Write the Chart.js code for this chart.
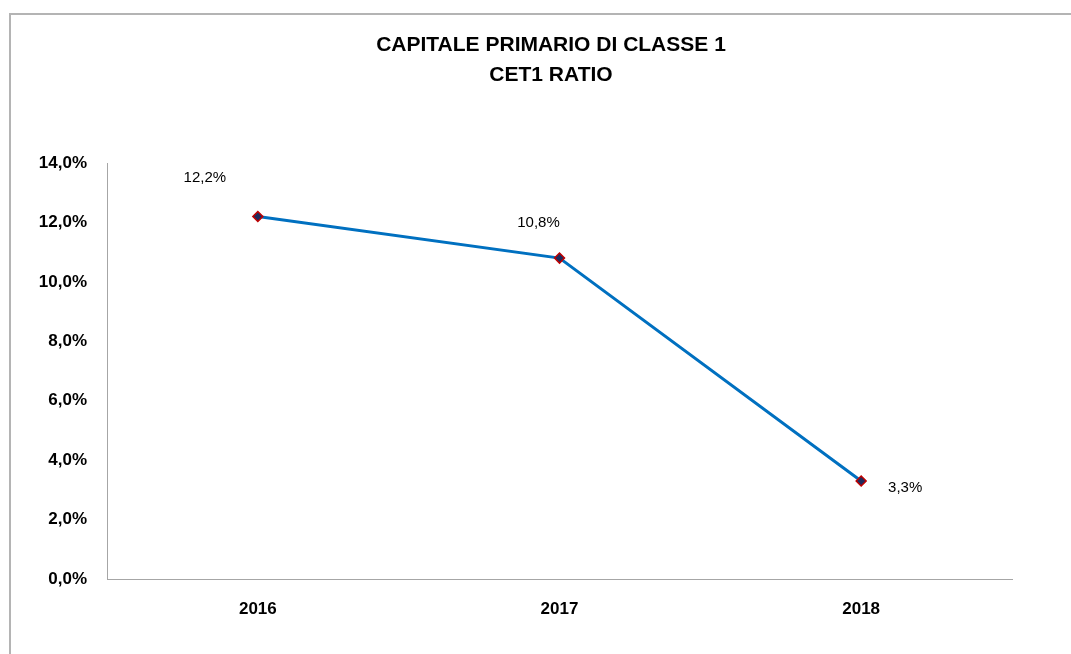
<!DOCTYPE html>
<html lang="it">
<head>
    <meta charset="UTF-8">
    <title>CET1 Ratio</title>
    <script src="https://cdn.jsdelivr.net/npm/chart.js"></script>
    <style>
        body { margin: 0; background: #fff; }
        .wrap { position: relative; width: 1071px; height: 654px; overflow: hidden; }
        .frame {
            position: absolute; left: 9px; top: 13px; width: 1200px; height: 800px;
            border-top: 2px solid #b4b4b4; border-left: 2px solid #b4b4b4;
        }
        #cet1Chart { position: absolute; left: 0; top: 0; }
    </style>
</head>
<body>
    <div class="wrap">
        <div class="frame"></div>
        <canvas id="cet1Chart" width="1071" height="654"></canvas>
    </div>

    <script>
        // data
        const years = ['2016', '2017', '2018'];
        const cet1Ratio = [12.2, 10.8, 3.3];
        const yTicks = [0, 2, 4, 6, 8, 10, 12, 14];
        const titleLines = ['CAPITALE PRIMARIO DI CLASSE 1', 'CET1 RATIO'];

        // where each value label sits relative to its point (px)
        const labelOffsets = [[-53, -39], [-21, -35], [44, 7]];

        const fmt = v => v.toFixed(1).replace('.', ',') + '%';

        // title is centred on the frame, not on the plot, so draw it by hand
        const chartTitle = {
            id: 'chartTitle',
            afterDraw(chart) {
                const ctx = chart.ctx;
                ctx.save();
                ctx.font = 'bold 21px "Liberation Sans", Arial, sans-serif';
                ctx.fillStyle = '#000';
                ctx.textAlign = 'center';
                ctx.textBaseline = 'middle';
                titleLines.forEach((t, i) => ctx.fillText(t, 551, 45 + i * 30));
                ctx.restore();
            }
        };

        const valueLabels = {
            id: 'valueLabels',
            afterDatasetsDraw(chart) {
                const ctx = chart.ctx;
                const meta = chart.getDatasetMeta(0);
                ctx.save();
                ctx.font = '15px "Liberation Sans", Arial, sans-serif';
                ctx.fillStyle = '#000';
                ctx.textAlign = 'center';
                ctx.textBaseline = 'middle';
                meta.data.forEach((pt, i) => {
                    const off = labelOffsets[i];
                    ctx.fillText(fmt(cet1Ratio[i]), pt.x + off[0], pt.y + off[1]);
                });
                ctx.restore();
            }
        };

        const ctx = document.getElementById('cet1Chart').getContext('2d');
        new Chart(ctx, {
            type: 'line',
            data: {
                labels: years,
                datasets: [{
                    data: cet1Ratio,
                    borderColor: '#0070C0',
                    borderWidth: 3,
                    pointStyle: 'rectRot',
                    pointRadius: 5,
                    pointBackgroundColor: '#1F2A5C',
                    pointBorderColor: '#C00000',
                    pointBorderWidth: 1.5,
                    tension: 0
                }]
            },
            options: {
                responsive: false,
                animation: false,
                layout: { padding: { left: 0, right: 59, top: 163, bottom: 0 } },
                plugins: {
                    legend: { display: false },
                    tooltip: { enabled: false },
                    title: { display: false }
                },
                scales: {
                    x: {
                        offset: true,
                        grid: { display: false, drawTicks: false },
                        border: { display: true, color: '#a6a6a6', width: 1 },
                        ticks: {
                            padding: 20,
                            color: '#000',
                            font: { family: '"Liberation Sans", Arial, sans-serif', size: 17, weight: 'bold' }
                        },
                        afterFit(scale) { scale.height = 75; }
                    },
                    y: {
                        min: 0,
                        max: 14,
                        grid: { display: false, drawTicks: false },
                        border: { display: true, color: '#a6a6a6', width: 1 },
                        afterBuildTicks(scale) { scale.ticks = yTicks.map(v => ({ value: v })); },
                        ticks: {
                            padding: 20,
                            color: '#000',
                            font: { family: '"Liberation Sans", Arial, sans-serif', size: 17, weight: 'bold' },
                            callback: v => fmt(v)
                        },
                        afterFit(scale) { scale.width = 107; }
                    }
                }
            },
            plugins: [valueLabels, chartTitle]
        });
    </script>
</body>
</html>
